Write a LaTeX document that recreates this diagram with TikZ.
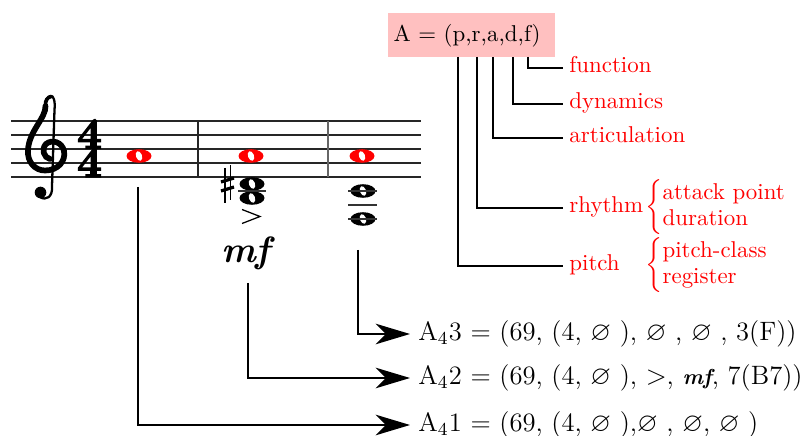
\documentclass[tikz,border=0pt]{standalone}
\usepackage{amssymb}
\usetikzlibrary{arrows.meta}
\definecolor{boxpink}{RGB}{255,192,192}
\newcommand{\wholenote}[3]{%
  \begin{scope}[shift={(#1,#2)}]
    \fill[#3] (0,0) ellipse [x radius=12.5, y radius=6.8];
    \fill[white, rotate=20] (0,0) ellipse [x radius=3.0, y radius=5.0];
  \end{scope}}
\newcommand{\heavytext}[1]{\special{pdf:literal direct 2 Tr 0.7 w}#1\special{pdf:literal direct 0 Tr}}
\begin{document}
\begin{tikzpicture}[x=0.4367pt,y=-0.4367pt,
  conn/.style={line width=0.75pt},
  arr/.style={conn,-{Stealth[length=15pt,width=9pt,inset=4.5pt]}},
  lbl/.style={text=red,anchor=mid west,inner sep=2.6pt,font=\fontsize{10}{12}\selectfont},
  bracelbl/.style={text=red,anchor=west,inner sep=0pt,font=\fontsize{10}{11}\selectfont},
  eqn/.style={anchor=west,inner sep=3.5pt,font=\fontsize{11.6}{14}\selectfont},
  staffline/.style={line width=0.5pt,black!85},
  ledger/.style={line width=0.5pt,black!80},
  tsig/.style={anchor=base,inner sep=0pt,text height=11.9pt,font=\fontsize{19}{21}\selectfont\bfseries},
]
\useasboundingbox (0,0) rectangle (812,436);

% staff
\foreach \yy in {121,135,149,163,177} \draw[staffline] (11,\yy) -- (421,\yy);
\draw[staffline] (198,121) -- (198,177);
\draw[staffline,black!60] (328,121) -- (328,177);

% treble clef
\fill (40.5,192.5) circle [radius=5.8];
\draw[line width=1.0pt] (40,197) .. controls (46,201) and (53,197) .. (52,186)
  -- (54.5,110) .. controls (55.5,100) and (53,95.5) .. (51,96)
  .. controls (47,97) and (44.5,101) .. (45.5,106);
\draw[line width=2.5pt, line cap=round] (45.5,106) .. controls (46,118) and (29,131) .. (28,150)
  .. controls (27,162) and (35,170.5) .. (45,170.5)
  .. controls (58,170.5) and (66,161) .. (64,151)
  .. controls (62,142) and (52,139) .. (46,144)
  .. controls (41,149) and (44,158) .. (50,159);
\draw[line width=1.6pt, line cap=round] (45.5,106) .. controls (45,100) and (48,97) .. (51,96.5);

% time signature
\node[tsig] (ts1) at (89.5,148.3) {\heavytext{4}};
\node[tsig] (ts2) at (89.5,176.8) {\heavytext{4}};

% red notes (A4)
\wholenote{139}{156}{red}
\wholenote{251}{156}{red}
\wholenote{362}{156}{red}

% measure 2 chord
\wholenote{252}{184}{black}
\wholenote{252}{198}{black}
\draw[ledger] (238,191) -- (266,191);
\draw[line width=0.5pt] (225,168) -- (225,203);
\draw[line width=0.5pt] (230.5,165) -- (230.5,200);
\draw[line width=1.4pt] (221,182) -- (234,178);
\draw[line width=1.4pt] (221,191) -- (234,187);
\draw[line width=0.55pt] (242,209.5) -- (260,216.5) -- (242,223.5);
\node[inner sep=0pt,font=\fontsize{16}{18}\selectfont\bfseries\itshape] (mf) at (246,253) {mf};

% measure 3 chord
\wholenote{363}{191}{black}
\wholenote{363}{219}{black}
\draw[ledger] (348,191) -- (377,191);
\draw[ledger] (348,205) -- (377,205);
\draw[ledger] (348,219) -- (377,219);

% tuple box and tree
\node[fill=boxpink, anchor=north west, text width=68.5pt, align=left, inner xsep=2.2pt,
  inner ysep=0pt, minimum height=19.2pt, font=\fontsize{10}{12}\selectfont] (A) at (388,13) {A = (p,r,a,d,f)};
\coordinate (cp) at (458,57);
\coordinate (cr) at (477,57);
\coordinate (ca) at (493,57);
\coordinate (cd) at (513,57);
\coordinate (cf) at (528,57);

\node[lbl] (fn)  at (563,68)  {function};
\node[lbl] (dyn) at (563,104) {dynamics};
\node[lbl] (art) at (563,138) {articulation};
\node[lbl] (rhy) at (563,208) {rhythm};
\node[lbl] (pit) at (563,266) {pitch};

\draw[conn] (cf) |- (fn.mid west);
\draw[conn] (cd) |- (dyn.mid west);
\draw[conn] (ca) |- (art.mid west);
\draw[conn] (cr) |- (rhy.mid west);
\draw[conn] (cp) |- (pit.mid west);

\node[bracelbl] (rb) at (645,207.5) {$\left\{\begin{tabular}{@{}l@{}}attack point\\duration\end{tabular}\right.$};
\node[bracelbl] (pb) at (645,265.5) {$\left\{\begin{tabular}{@{}l@{}}pitch-class\\register\end{tabular}\right.$};

% equations
\node[eqn] (e3) at (410,334) {A$_4$3 = (69, (4, $\varnothing$ ), $\varnothing$ , $\varnothing$ , 3(F))};
\node[eqn] (e2) at (410,378) {A$_4$2 = (69, (4, $\varnothing$ ), $>$, {\fontsize{9.5}{11}\selectfont\bfseries\itshape mf}, 7(B7))};
\node[eqn] (e1) at (410,425) {A$_4$1 = (69, (4, $\varnothing$ ),$\varnothing$ , $\varnothing$, $\varnothing$ )};

\coordinate (n1) at (138,187);
\coordinate (n2) at (248,283);
\coordinate (n3) at (358,250);
\draw[arr] (n1) |- (e1.west);
\draw[arr] (n2) |- (e2.west);
\draw[arr] (n3) |- (e3.west);
\end{tikzpicture}
\end{document}
